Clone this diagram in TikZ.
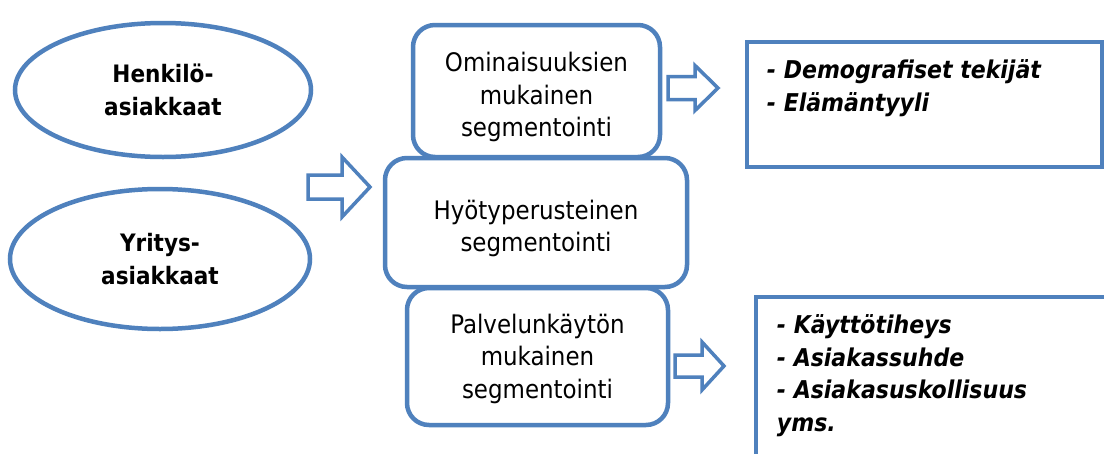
\documentclass[tikz,border=0pt]{standalone}
\usepackage{fontspec}
\setmainfont{DejaVu Sans Condensed}
\usetikzlibrary{shapes.geometric}
\definecolor{accent}{HTML}{4F81BD}
\tikzset{
  outline/.style={draw=accent, line width=4.5pt, fill=white},
  oval/.style={outline, ellipse, inner sep=0pt, align=center,
    font=\fontsize{24}{33}\selectfont\bfseries},
  rbox/.style={outline, rounded corners=22pt, inner sep=0pt},
  boxtext/.style={inner sep=0pt, align=center,
    font=\fontsize{25.5}{32.5}\selectfont},
  sbox/.style={outline, inner sep=0pt},
  listtext/.style={anchor=north west, inner sep=0pt, align=left,
    font=\fontsize{24.5}{32.5}\selectfont\bfseries\itshape},
  pics/barrow/.style n args={4}{code={
    \draw[draw=accent, line width=3.5pt, fill=white, line join=miter]
      (0,-#4) -- (#2,-#4) -- (#2,-#3) -- (#1,0) -- (#2,#3) -- (#2,#4) -- (0,#4) -- cycle;
  }},
}
\begin{document}
\begin{tikzpicture}[x=1pt,y=-1pt]
\useasboundingbox (0,0) rectangle (1104,453);
\clip (0,0) rectangle (1104,453);
\fill[white] (0,0) rectangle (1104,453);

% ovals
\node[oval, minimum width=296pt, minimum height=134pt] (henk) at (163,90) {Henkilö-\\asiakkaat};
\node[oval, minimum width=300pt, minimum height=140pt] (yrit) at (160,259) {Yritys-\\asiakkaat};

% big arrow to the middle column
\pic at (308,187) {barrow={62}{34}{30}{12}};

% middle boxes
\node[rbox, minimum width=247pt, minimum height=132pt] (omin) at (536.5,91) {};
\node[boxtext] (omintext) at ([yshift=-6pt]omin.center) {Ominaisuuksien\\mukainen\\segmentointi};
\node[rbox, minimum width=261pt, minimum height=137pt] (palv) at (537.5,356.5) {};
\node[boxtext] (palvtext) at ([yshift=-2pt]palv.center) {Palvelunkäytön\\mukainen\\segmentointi};
\node[rbox, minimum width=302pt, minimum height=129pt] (hyot) at (536,222.5) {};
\node[boxtext] (hyottext) at ([yshift=-6pt]hyot.center) {Hyötyperusteinen\\segmentointi};

% small arrows
\pic at (668,88) {barrow={50}{27}{22.5}{11.5}};
\pic at (675,366) {barrow={49}{27}{24}{11}};

% right boxes
\node[sbox, minimum width=355pt, minimum height=125pt] (demo) at (924.5,104.5) {};
\node[listtext] (demotext) at ([xshift=22pt,yshift=-20pt]demo.north west)
  {- Demografiset tekijät\\- Elämäntyyli};
\node[sbox, minimum width=360pt, minimum height=170pt] (kayt) at (936,382) {};
\node[listtext] (kayttext) at ([xshift=23pt,yshift=-20pt]kayt.north west)
  {- Käyttötiheys\\- Asiakassuhde\\- Asiakasuskollisuus\\yms.};
\end{tikzpicture}
\end{document}
